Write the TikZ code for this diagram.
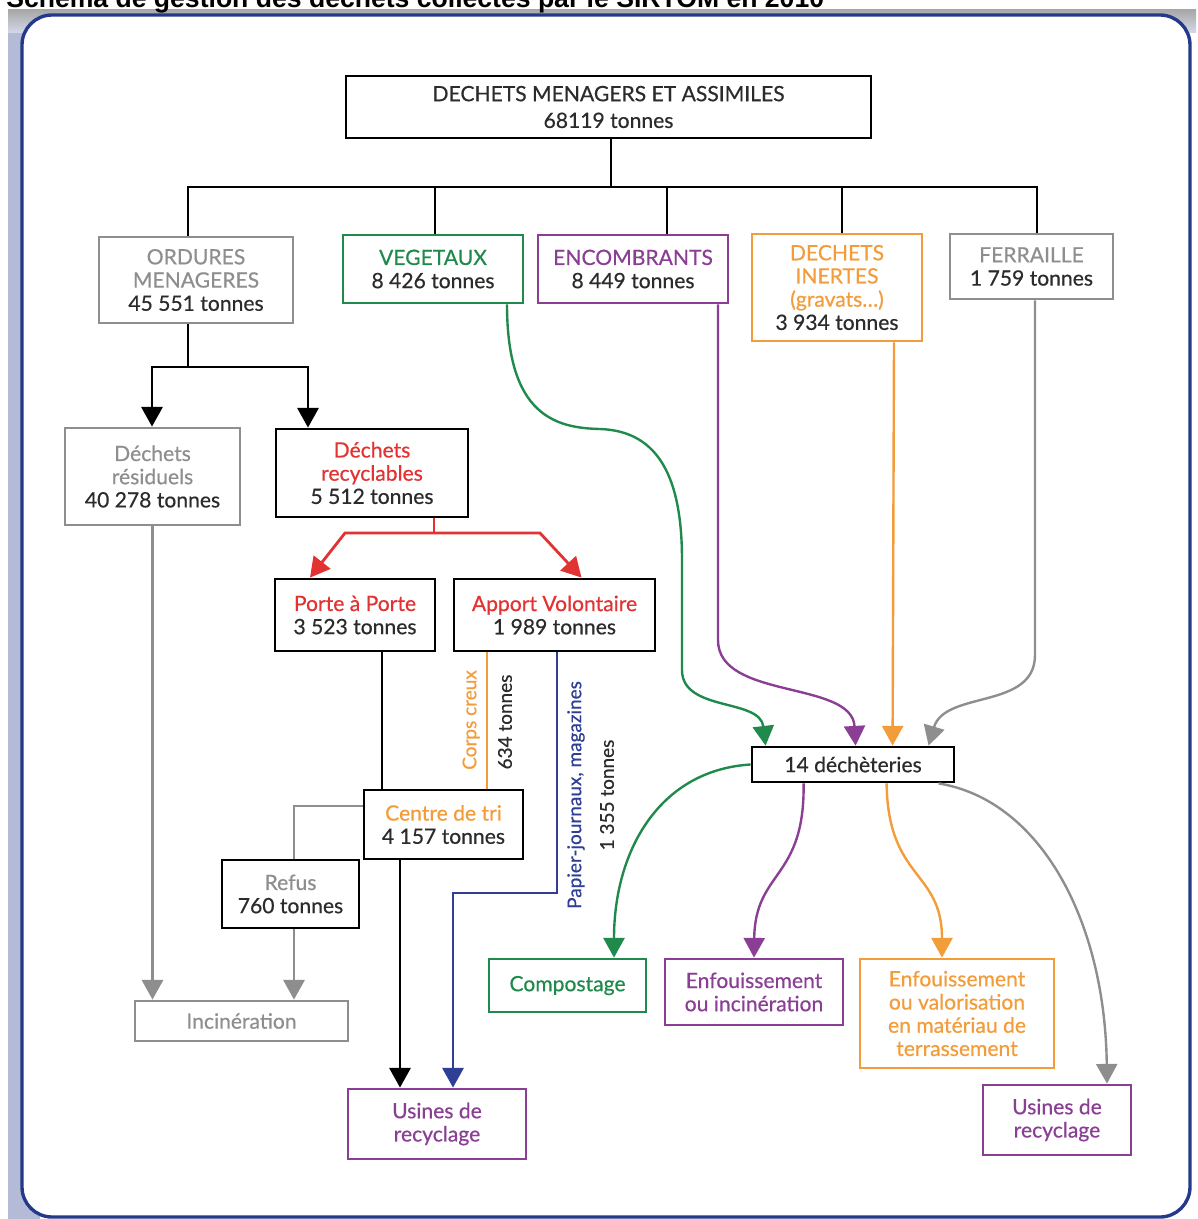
\documentclass[tikz,border=0pt]{standalone}
\usepackage{fontspec}
\usepackage{xcolor}
\usepackage{tikz}
\newfontfamily\diagfont[FakeBold=0.5]{Lato}
\newfontfamily\titlefont{Liberation Sans}
\usetikzlibrary{arrows.meta,calc}
\definecolor{cadre}{HTML}{24398A}
\definecolor{ombre}{HTML}{B4BBD6}
\definecolor{txt}{HTML}{2B2B2B}
\definecolor{gris}{HTML}{8E8E8E}
\definecolor{vert}{HTML}{1F8A4C}
\definecolor{pourpre}{HTML}{8A3F95}
\definecolor{orangec}{HTML}{F39C3A}
\definecolor{rouge}{HTML}{E23232}
\definecolor{bleu}{HTML}{2E3F95}

\begin{document}
\begin{tikzpicture}[x=0.025cm, y=-0.025cm,
  box/.style={draw, rectangle, line width=2pt, inner sep=0pt, align=center, text=txt,
    font=\diagfont\fontsize{15}{16.5}\selectfont},
  sz/.style 2 args={minimum width=#1*0.025cm, minimum height=#2*0.025cm},
  lien/.style={line width=2pt},
  courbe/.style={line width=1.7pt},
  fl/.style={-{Triangle[width=15pt,length=14pt]}},
  lab/.style={rotate=90, inner sep=0pt, text=txt, font=\diagfont\fontsize{13.5}{15}\selectfont}]
\useasboundingbox (0,0) rectangle (1198,1219);
% Frame and title
\fill[ombre] (8,9) rectangle (40,1219);
\shade[top color=gray!70, bottom color=ombre!60] (8,9) rectangle (1196,32);
\draw[cadre, line width=2.4pt, fill=white, rounded corners=0.75cm] (22,15) rectangle (1190,1217);
\node[anchor=base west, inner sep=0pt, font=\titlefont\bfseries\fontsize{18.9}{21}\selectfont] (titre) at (6,7) {Schéma de gestion des déchets collectés par le SIRTOM en 2010};

% Boxes
\node[box, sz={525}{62}, font=\diagfont\fontsize{15}{19}\selectfont] (dma) at (608.5,107) {DECHETS MENAGERS ET ASSIMILES\\68119 tonnes};

\node[box, draw=gris, sz={194}{86}] (om) at (196,280) {\textcolor{gris}{ORDURES}\\\textcolor{gris}{MENAGERES}\\45 551 tonnes};
\node[box, draw=vert, sz={180}{68}] (veg) at (433,269) {\textcolor{vert}{VEGETAUX}\\8 426 tonnes};
\node[box, draw=pourpre, sz={190}{68}] (enc) at (633,269) {\textcolor{pourpre}{ENCOMBRANTS}\\8 449 tonnes};
\node[box, draw=orangec, sz={170}{107}] (ine) at (837,287.5) {\textcolor{orangec}{DECHETS}\\\textcolor{orangec}{INERTES}\\\textcolor{orangec}{(gravats…)}\\3 934 tonnes};
\node[box, draw=gris, sz={163}{65}] (fer) at (1031.5,266.5) {\textcolor{gris}{FERRAILLE}\\1 759 tonnes};

\node[box, draw=gris, sz={175}{97}] (res) at (152.5,476.5) {\textcolor{gris}{Déchets}\\\textcolor{gris}{résiduels}\\40 278 tonnes};
\node[box, sz={192}{88}] (recy) at (372,473) {\textcolor{rouge}{Déchets}\\\textcolor{rouge}{recyclables}\\5 512 tonnes};
\node[box, sz={160}{72}] (pap) at (355,615) {\textcolor{rouge}{Porte à Porte}\\3 523 tonnes};
\node[box, sz={201}{72}] (av) at (554.5,615) {\textcolor{rouge}{Apport Volontaire}\\1 989 tonnes};
\node[box, sz={159}{69}] (tri) at (443.5,824.5) {\textcolor{orangec}{Centre de tri}\\4 157 tonnes};
\node[box, sz={137}{68}] (refus) at (290.5,894) {\textcolor{gris}{Refus}\\760 tonnes};
\node[box, draw=gris, sz={213}{40}, text=gris] (inc) at (241.5,1021) {Incinération};
\node[box, draw=pourpre, sz={178}{70}, text=pourpre] (usl) at (437,1124) {Usines de\\recyclage};

\node[box, sz={202}{35}] (dech) at (853,764.5) {14 déchèteries};
\node[box, draw=vert, sz={157}{53}, text=vert] (comp) at (567.5,985.5) {Compostage};
\node[box, draw=pourpre, sz={178}{66}, text=pourpre] (enf) at (754,992) {Enfouissement\\ou incinération};
\node[box, draw=orangec, sz={194}{109}, text=orangec] (val) at (957,1013.5) {Enfouissement\\ou valorisation\\en matériau de\\terrassement};
\node[box, draw=pourpre, sz={148}{70}, text=pourpre] (usr) at (1057,1120) {Usines de\\recyclage};

% Split of household waste
\coordinate (bus) at (611,187);
\coordinate (b1) at (188,187);
\coordinate (b5) at (1037,187);
\draw[lien] (dma.south -| bus) -- (bus);
\draw[lien] (b1 |- om.north) -- (b1) -- (b5) -- (b5 |- fer.north);
\foreach \xx/\nn in {435/veg, 667/enc, 842/ine} {
  \coordinate (h) at (\xx,187);
  \draw[lien] (h) -- (h |- \nn.north);
}

% Ordures menageres
\coordinate (f0) at (188,367);
\coordinate (f1) at (152,367);
\coordinate (f2) at (308,367);
\draw[lien] (f0 |- om.south) -- (f0);
\draw[lien, fl] (f0) -- (f1) -- (f1 |- res.north);
\draw[lien, fl] (f0) -- (f2) -- (f2 |- recy.north);

% Recyclables
\coordinate (r0) at (434,533);
\coordinate (r1) at (345,533);
\coordinate (r2) at (540,533);
\draw[lien, rouge] (r0 |- recy.south) -- (r0);
\draw[lien, rouge, fl] (r0) -- (r1) -- ($(pap.north)+(-45,0)$);
\draw[lien, rouge, fl] (r0) -- (r2) -- ($(av.north)+(27,0)$);

% To the sorting centre
\coordinate (p1) at (382,0);
\coordinate (p2) at (400,0);
\coordinate (p3) at (487,0);
\coordinate (p4) at (557,893);
\coordinate (p5) at (453,893);
\draw[lien] (pap.south -| p1) -- (tri.north -| p1);
\draw[lien, orangec] (av.south -| p3) -- (tri.north -| p3);
\draw[lien, fl] (tri.south -| p2) -- (usl.north -| p2);
\draw[lien, bleu, fl] (p4 |- av.south) -- (p4) -- (p5) -- (p5 |- usl.north);

% Refus and residual waste
\coordinate (g1) at (294,806);
\draw[lien, gris] (g1 -| tri.west) -- (g1) -- (g1 |- refus.north);
\draw[lien, gris, fl] (refus.south -| g1) -- (inc.north -| g1);
\draw[lien, gris, fl] (res.south) -- (res.south |- inc.north);

% Labels
\node[lab, text=orangec] (cc) at (471,720) {Corps creux};
\node[lab] (t634) at (505,722) {634 tonnes};
\node[lab, text=bleu] (pjm) at (576,795) {Papier-journaux, magazines};
\node[lab] (t1355) at (607,795) {1 355 tonnes};

% Into the dechetteries
\draw[courbe, vert, fl] ($(veg.south)+(74,0)$) .. controls (507,415) and (555,428) .. (600,429) .. controls (660,431) and (682,480) .. (682,560) -- (682,670) .. controls (682,712) and (760,698) .. ($(dech.north west)+(15,0)$);
\draw[courbe, pourpre, fl] ($(enc.south)+(85,0)$) -- (718,640) .. controls (718,700) and (852,680) .. ($(dech.north west)+(105,0)$);
\draw[courbe, orangec, fl] ($(ine.south)+(57,0)$) -- ($(dech.north west)+(142,0)$);
\draw[courbe, gris, fl] ($(fer.south)+(3.5,0)$) -- (1035,655) .. controls (1035,710) and (945,690) .. ($(dech.north west)+(178,0)$);

% Out of the dechetteries
\draw[courbe, vert, fl] (dech.west) .. controls (660,770) and (614,850) .. ($(comp.north)+(46.5,0)$);
\draw[courbe, pourpre, fl] ($(dech.south west)+(53,0)$) .. controls (805,880) and (755,870) .. (enf.north);
\draw[courbe, orangec, fl] ($(dech.south west)+(136,0)$) .. controls (888,880) and (942,870) .. ($(val.north)+(-15,0)$);
\draw[courbe, gris, fl] ($(dech.south west)+(188,0)$) .. controls (1040,800) and (1105,920) .. ($(usr.north)+(50,0)$);
\end{tikzpicture}
\end{document}
